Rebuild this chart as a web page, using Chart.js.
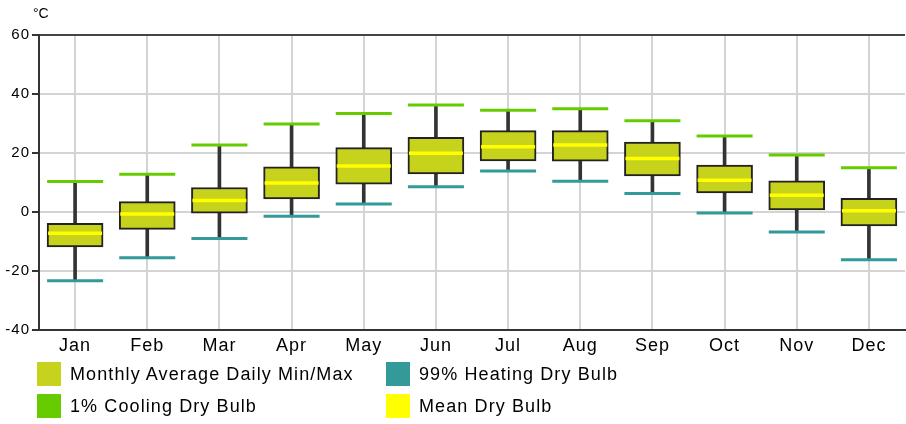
<!DOCTYPE html>
<html>
<head>
<meta charset="utf-8">
<script src="https://cdn.jsdelivr.net/npm/chart.js@4/dist/chart.umd.min.js"></script>
<style>
body { margin: 0; background: #fff; font-family: "Liberation Sans", Arial, sans-serif; }
#wrap { position: relative; width: 906px; height: 424px; }
#chart { position: absolute; left: 0; top: 0; }
#unit { position: absolute; left: 33px; top: 5px; font-size: 14px; line-height: 16px; color: #000; }
.item { position: absolute; height: 24px; font-size: 18px; line-height: 24px; letter-spacing: 1.1px; color: #000; white-space: nowrap; }
.item span { display: inline-block; width: 24px; height: 24px; vertical-align: top; margin-right: 9px; }
</style>
</head>
<body>
<div id="wrap">
  <canvas id="chart" width="906" height="424"></canvas>
  <div id="unit">°C</div>
  <div id="legend"></div>
</div>
<script>
var months = ['Jan','Feb','Mar','Apr','May','Jun','Jul','Aug','Sep','Oct','Nov','Dec'];
var dailyMin = [-11.8, -5.9, -0.4, 4.4, 9.4, 12.9, 17.3, 17.2, 12.2, 6.5, 0.7, -4.7];
var dailyMax = [-3.8, 3.5, 8.3, 15.3, 21.8, 25.3, 27.6, 27.6, 23.7, 15.9, 10.6, 4.6];
var meanDryBulb = [-7.2, -0.7, 3.9, 9.8, 15.6, 19.9, 22.1, 22.7, 18.1, 10.8, 5.7, 0.4];
var cooling1 = [10.3, 12.8, 22.7, 29.8, 33.4, 36.3, 34.5, 35.0, 30.9, 25.8, 19.3, 15.0];
var heating99 = [-23.3, -15.5, -9.0, -1.4, 2.7, 8.6, 13.9, 10.4, 6.3, -0.3, -6.8, -16.2];
var yMin = -40, yMax = 60, yStep = 20;

var boxColor = '#c6d21b';
var coolColor = '#66cc00';
var heatColor = '#339999';
var meanColor = '#ffff00';

var boxData = months.map(function (m, i) { return [dailyMin[i], dailyMax[i]]; });
var whiskerData = months.map(function (m, i) { return [heating99[i], cooling1[i]]; });

// canvas letter spacing, reset every time the canvas is resized
var spacing = {
    id: 'spacing',
    beforeLayout: function (chart) { chart.ctx.letterSpacing = '1px'; },
    beforeDraw: function (chart) { chart.ctx.letterSpacing = '1px'; }
};

var capLine = function (data, color, width, radius, order) {
    return {
        type: 'line',
        data: data,
        showLine: false,
        pointStyle: 'line',
        pointRadius: radius,
        pointHoverRadius: radius,
        pointBorderWidth: width,
        pointHoverBorderWidth: width,
        pointBorderColor: color,
        pointBackgroundColor: color,
        order: order
    };
};

var chart = new Chart(document.getElementById('chart'), {
    type: 'bar',
    data: {
        labels: months,
        datasets: [
            {
                label: 'whisker',
                data: whiskerData,
                backgroundColor: '#333333',
                barThickness: 3,
                grouped: false,
                order: 5
            },
            {
                label: 'Monthly Average Daily Min/Max',
                data: boxData,
                backgroundColor: boxColor,
                borderColor: '#222222',
                borderWidth: 2,
                borderSkipped: false,
                barThickness: 56,
                grouped: false,
                order: 4
            },
            capLine(cooling1, coolColor, 3, 28, 3),
            capLine(heating99, heatColor, 3, 28, 2),
            capLine(meanDryBulb, meanColor, 3.5, 27, 1)
        ]
    },
    options: {
        responsive: false,
        animation: false,
        events: [],
        layout: { autoPadding: false, padding: { top: 35, left: 0, right: 1, bottom: 64 } },
        plugins: {
            legend: { display: false },
            tooltip: { enabled: false }
        },
        scales: {
            x: {
                afterFit: function (scale) { scale.height = 30; },
                grid: { offset: false, color: '#d4d4d4', lineWidth: 2, drawTicks: false },
                border: { color: '#333333', width: 2 },
                ticks: {
                    color: '#000',
                    padding: 5,
                    font: { family: '"Liberation Sans", Arial, sans-serif', size: 18 }
                }
            },
            y: {
                min: yMin,
                max: yMax,
                afterFit: function (scale) { scale.width = 39; },
                grid: {
                    color: function (c) { return c.tick && c.tick.value === yMax ? '#444444' : '#d4d4d4'; },
                    lineWidth: 2,
                    tickLength: 7,
                    tickColor: '#333333',
                    tickWidth: 2
                },
                border: { color: '#333333', width: 2 },
                ticks: {
                    stepSize: yStep,
                    color: '#000',
                    padding: 2,
                    font: { family: '"Liberation Sans", Arial, sans-serif', size: 15 }
                }
            }
        }
    },
    plugins: [spacing]
});

var legendItems = [
    { text: 'Monthly Average Daily Min/Max', color: boxColor, left: 37, top: 362 },
    { text: '99% Heating Dry Bulb', color: heatColor, left: 386, top: 362 },
    { text: '1% Cooling Dry Bulb', color: coolColor, left: 37, top: 394 },
    { text: 'Mean Dry Bulb', color: meanColor, left: 386, top: 394 }
];
var legendDiv = document.getElementById('legend');
legendItems.forEach(function (it) {
    var d = document.createElement('div');
    d.className = 'item';
    d.style.left = it.left + 'px';
    d.style.top = it.top + 'px';
    var sw = document.createElement('span');
    sw.style.background = it.color;
    d.append(sw);
    d.append(document.createTextNode(it.text));
    legendDiv.append(d);
});
</script>
</body>
</html>
